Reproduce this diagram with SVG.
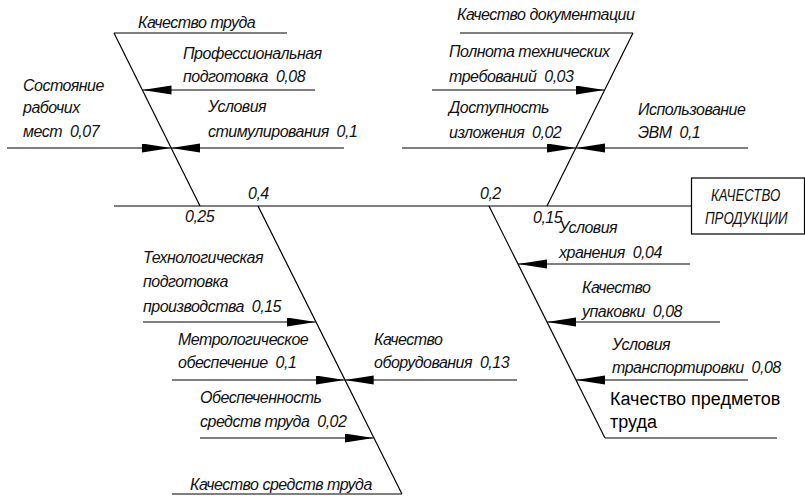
<svg xmlns="http://www.w3.org/2000/svg" width="805" height="496" viewBox="0 0 805 496">
<style>
.l{stroke:#000;stroke-width:1.2;fill:none}
.a{stroke:#000;stroke-width:1.2;fill:none;marker-end:url(#ah)}
.t{font-family:"Liberation Sans",Arial,sans-serif;font-style:italic;font-size:16px;letter-spacing:-0.5px;fill:#111;white-space:pre}
.c{font-family:"Liberation Sans",Arial,sans-serif;font-style:italic;font-size:17px;fill:#111}
.r{font-family:"Liberation Sans",Arial,sans-serif;font-size:18px;fill:#000;white-space:pre}
</style>
<defs>
<marker id="ah" markerUnits="userSpaceOnUse" markerWidth="30" markerHeight="10" refX="29" refY="4.5" orient="auto">
<path d="M0,0 L29,4.5 L0,9 z" fill="#000"/>
</marker>
</defs>
<rect width="805" height="496" fill="#fff"/>
<g id="connectors">
<line class="l" x1="114" y1="206" x2="691" y2="206"/>
<line class="l" x1="114" y1="33" x2="200" y2="206"/>
<line class="l" x1="114" y1="33" x2="287" y2="33"/>
<line class="l" x1="633" y1="33" x2="547" y2="206"/>
<line class="l" x1="460" y1="33" x2="633" y2="33"/>
<line class="l" x1="258" y1="206" x2="402" y2="494"/>
<line class="l" x1="172" y1="494" x2="402" y2="494"/>
<line class="l" x1="489" y1="206" x2="605" y2="438"/>
<line class="l" x1="605" y1="438" x2="777" y2="438"/>
<line class="a" x1="315" y1="90" x2="142.5" y2="90"/>
<line class="a" x1="7" y1="148" x2="171" y2="148"/>
<line class="a" x1="344" y1="148" x2="171" y2="148"/>
<line class="a" x1="432" y1="90" x2="604.5" y2="90"/>
<line class="a" x1="402" y1="148" x2="576" y2="148"/>
<line class="a" x1="748" y1="148" x2="576" y2="148"/>
<line class="a" x1="690" y1="264" x2="518" y2="264"/>
<line class="a" x1="720" y1="322" x2="547" y2="322"/>
<line class="a" x1="748" y1="380" x2="576" y2="380"/>
<line class="a" x1="143" y1="322" x2="315.8" y2="322"/>
<line class="a" x1="172" y1="380" x2="344.7" y2="380"/>
<line class="a" x1="517" y1="380" x2="344.7" y2="380"/>
<line class="a" x1="200" y1="438" x2="373.6" y2="438"/>
</g>
<g id="result">
<rect class="l" x="691.5" y="178" width="113" height="56" fill="#fff"/>
<text class="c" transform="translate(711,201) scale(0.78,1)">КАЧЕСТВО</text>
<text class="c" transform="translate(705,224) scale(0.78,1)">ПРОДУКЦИИ</text>
</g>
<g id="labor">
<text class="t" x="138" y="28">Качество труда</text>
<text class="t" x="185" y="222">0,25</text>
</g>
<g id="prof">
<text class="t" x="183" y="59">Профессиональная</text>
<text class="t" x="183" y="82">подготовка  0,08</text>
</g>
<g id="workplace">
<text class="t" x="23" y="91">Состояние</text>
<text class="t" x="23" y="113">рабочих</text>
<text class="t" x="23" y="137">мест  0,07</text>
</g>
<g id="stimul">
<text class="t" x="208" y="112">Условия</text>
<text class="t" x="208" y="137">стимулирования  0,1</text>
</g>
<g id="docs">
<text class="t" x="457" y="20">Качество документации</text>
<text class="t" x="533" y="223">0,15</text>
</g>
<g id="completeness">
<text class="t" x="449" y="57">Полнота технических</text>
<text class="t" x="449" y="82">требований  0,03</text>
</g>
<g id="access">
<text class="t" x="449" y="113">Доступность</text>
<text class="t" x="449" y="138">изложения  0,02</text>
</g>
<g id="evm">
<text class="t" x="638" y="115">Использование</text>
<text class="t" x="638" y="138">ЭВМ  0,1</text>
</g>
<g id="objects">
<text class="t" x="480" y="199">0,2</text>
<text class="r" x="610" y="405">Качество предметов</text>
<text class="r" x="610" y="428">труда</text>
</g>
<g id="storage">
<text class="t" x="559" y="233">Условия</text>
<text class="t" x="559" y="258">хранения  0,04</text>
</g>
<g id="packing">
<text class="t" x="582" y="293">Качество</text>
<text class="t" x="582" y="317">упаковки  0,08</text>
</g>
<g id="transport">
<text class="t" x="612" y="350">Условия</text>
<text class="t" x="612" y="373">транспортировки  0,08</text>
</g>
<g id="tools">
<text class="t" x="248" y="199">0,4</text>
<text class="t" x="190" y="490">Качество средств труда</text>
</g>
<g id="techprep">
<text class="t" x="143" y="263">Технологическая</text>
<text class="t" x="143" y="287">подготовка</text>
<text class="t" x="143" y="312">производства  0,15</text>
</g>
<g id="metro">
<text class="t" x="178" y="345">Метрологическое</text>
<text class="t" x="178" y="368">обеспечение  0,1</text>
</g>
<g id="equipment">
<text class="t" x="374" y="345">Качество</text>
<text class="t" x="374" y="368">оборудования  0,13</text>
</g>
<g id="provision">
<text class="t" x="200" y="403">Обеспеченность</text>
<text class="t" x="200" y="427">средств труда  0,02</text>
</g>
</svg>
